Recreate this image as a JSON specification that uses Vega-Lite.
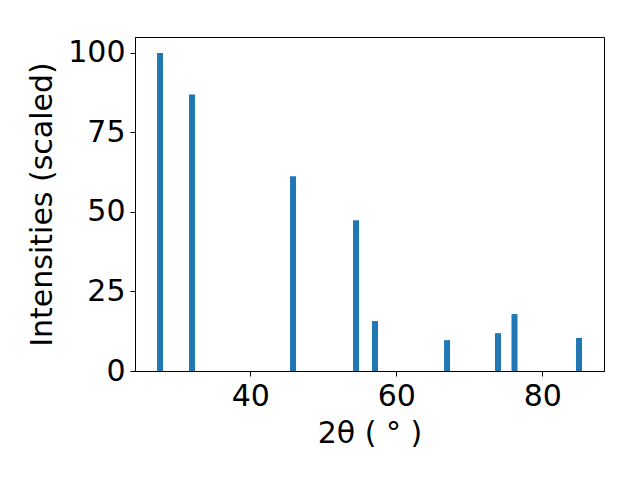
{
  "$schema": "https://vega.github.io/schema/vega-lite/v6.json",
  "width": 469,
  "height": 334,
  "autosize": {"type": "none"},
  "padding": {"left": 135, "top": 37, "right": 36, "bottom": 109},
  "background": "white",
  "config": {
    "view": {"stroke": "black", "strokeWidth": 1},
    "font": "DejaVu Sans",
    "axis": {
      "grid": false,
      "domainColor": "black",
      "tickColor": "black",
      "tickSize": 5,
      "labelFont": "DejaVu Sans",
      "labelFontSize": 30,
      "labelColor": "black",
      "titleFont": "DejaVu Sans",
      "titleFontSize": 30,
      "titleFontWeight": "normal",
      "titleColor": "black",
      "labelPadding": 5
    }
  },
  "data": {
    "values": [
      {"two_theta": 27.63, "intensity": 100},
      {"two_theta": 32.01, "intensity": 86.9},
      {"two_theta": 45.85, "intensity": 61.2},
      {"two_theta": 54.48, "intensity": 47.4},
      {"two_theta": 57.08, "intensity": 15.7},
      {"two_theta": 66.95, "intensity": 9.7},
      {"two_theta": 73.93, "intensity": 11.9},
      {"two_theta": 76.19, "intensity": 17.9},
      {"two_theta": 85.03, "intensity": 10.4}
    ]
  },
  "mark": {"type": "bar", "size": 6, "color": "#1f77b4"},
  "encoding": {
    "x": {
      "field": "two_theta",
      "type": "quantitative",
      "scale": {"domain": [24.2, 88.45], "nice": false, "zero": false, "padding": 0},
      "axis": {"values": [40, 60, 80], "title": "2θ ( ° )", "titlePadding": 7}
    },
    "y": {
      "field": "intensity",
      "type": "quantitative",
      "scale": {"domain": [0, 105], "nice": false},
      "axis": {"values": [0, 25, 50, 75, 100], "title": "Intensities (scaled)", "titlePadding": 10}
    }
  }
}
